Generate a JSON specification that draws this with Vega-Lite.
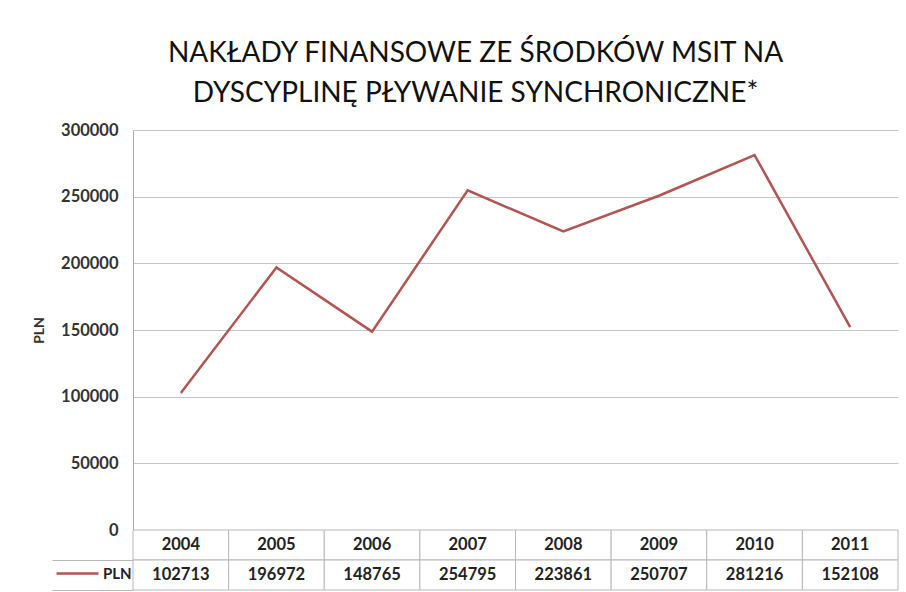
{
  "$schema": "https://vega.github.io/schema/vega-lite/v6.json",
  "padding": {"left": 32, "top": 40, "right": 6, "bottom": 2},
  "background": "white",
  "title": {
    "text": ["NAKŁADY FINANSOWE ZE ŚRODKÓW MSIT NA", "DYSCYPLINĘ PŁYWANIE SYNCHRONICZNE*"],
    "font": "Lato",
    "fontSize": 28,
    "fontWeight": "normal",
    "lineHeight": 40,
    "color": "#111111",
    "anchor": "middle",
    "dx": 10,
    "offset": 14
  },
  "data": {
    "values": [
      {"year": "2004", "PLN": 102713},
      {"year": "2005", "PLN": 196972},
      {"year": "2006", "PLN": 148765},
      {"year": "2007", "PLN": 254795},
      {"year": "2008", "PLN": 223861},
      {"year": "2009", "PLN": 250707},
      {"year": "2010", "PLN": 281216},
      {"year": "2011", "PLN": 152108}
    ]
  },
  "spacing": 0,
  "bounds": "flush",
  "vconcat": [
    {
      "width": 765,
      "height": 400,
      "mark": {"type": "line", "strokeWidth": 2.5},
      "encoding": {
        "x": {"field": "year", "type": "ordinal", "axis": null},
        "y": {
          "field": "PLN",
          "type": "quantitative",
          "scale": {"domain": [0, 300000]},
          "axis": {
            "values": [0, 50000, 100000, 150000, 200000, 250000, 300000],
            "format": "d",
            "ticks": false,
            "labelPadding": 15,
            "labelFont": "Lato",
            "labelFontSize": 16.5,
            "labelFontWeight": "bold",
            "labelColor": "#333333",
            "domainColor": "#aaaaaa",
            "gridColor": "#c4c4c4",
            "title": "PLN",
            "titleFont": "Lato",
            "titleFontSize": 14,
            "titleFontWeight": "bold",
            "titleColor": "#333333",
            "titlePadding": 14
          }
        },
        "color": {
          "datum": "PLN",
          "scale": {"range": ["#b05552"]},
          "legend": {
            "orient": "none",
            "legendX": -67,
            "legendY": 432,
            "title": null,
            "symbolType": "M-3,0H3",
            "symbolSize": 196,
            "symbolStrokeWidth": 2.5,
            "labelFont": "Lato",
            "labelFontSize": 15,
            "labelFontWeight": "bold",
            "labelColor": "#222222",
            "labelOffset": 17,
            "padding": 3
          }
        }
      }
    },
    {
      "width": 765,
      "height": 60,
      "encoding": {
        "x": {"field": "year", "type": "ordinal", "axis": null, "scale": {"paddingInner": 0, "paddingOuter": 0}}
      },
      "layer": [
        {
          "mark": {"type": "rect", "fill": "white", "stroke": "#b8b8b8", "strokeWidth": 1},
          "encoding": {"y": {"datum": "Rok", "type": "nominal", "scale": {"domain": ["Rok", "PLN"], "paddingInner": 0, "paddingOuter": 0}, "axis": {"title": null, "labels": false, "domain": false, "ticks": true, "tickSize": 81, "tickColor": "#b8b8b8", "bandPosition": 1}}}
        },
        {
          "mark": {"type": "rect", "fill": "white", "stroke": "#b8b8b8", "strokeWidth": 1},
          "encoding": {"y": {"datum": "PLN", "type": "nominal"}}
        },
        {
          "mark": {"type": "text", "font": "Lato", "fontSize": 16.5, "fontWeight": "bold", "color": "#222222"},
          "encoding": {"y": {"datum": "Rok", "type": "nominal"}, "text": {"field": "year"}}
        },
        {
          "mark": {"type": "text", "font": "Lato", "fontSize": 16.5, "fontWeight": "bold", "color": "#222222"},
          "encoding": {"y": {"datum": "PLN", "type": "nominal"}, "text": {"field": "PLN", "type": "quantitative", "format": "d"}}
        }
      ]
    }
  ],
  "config": {"view": {"stroke": null}, "font": "Lato"}
}
